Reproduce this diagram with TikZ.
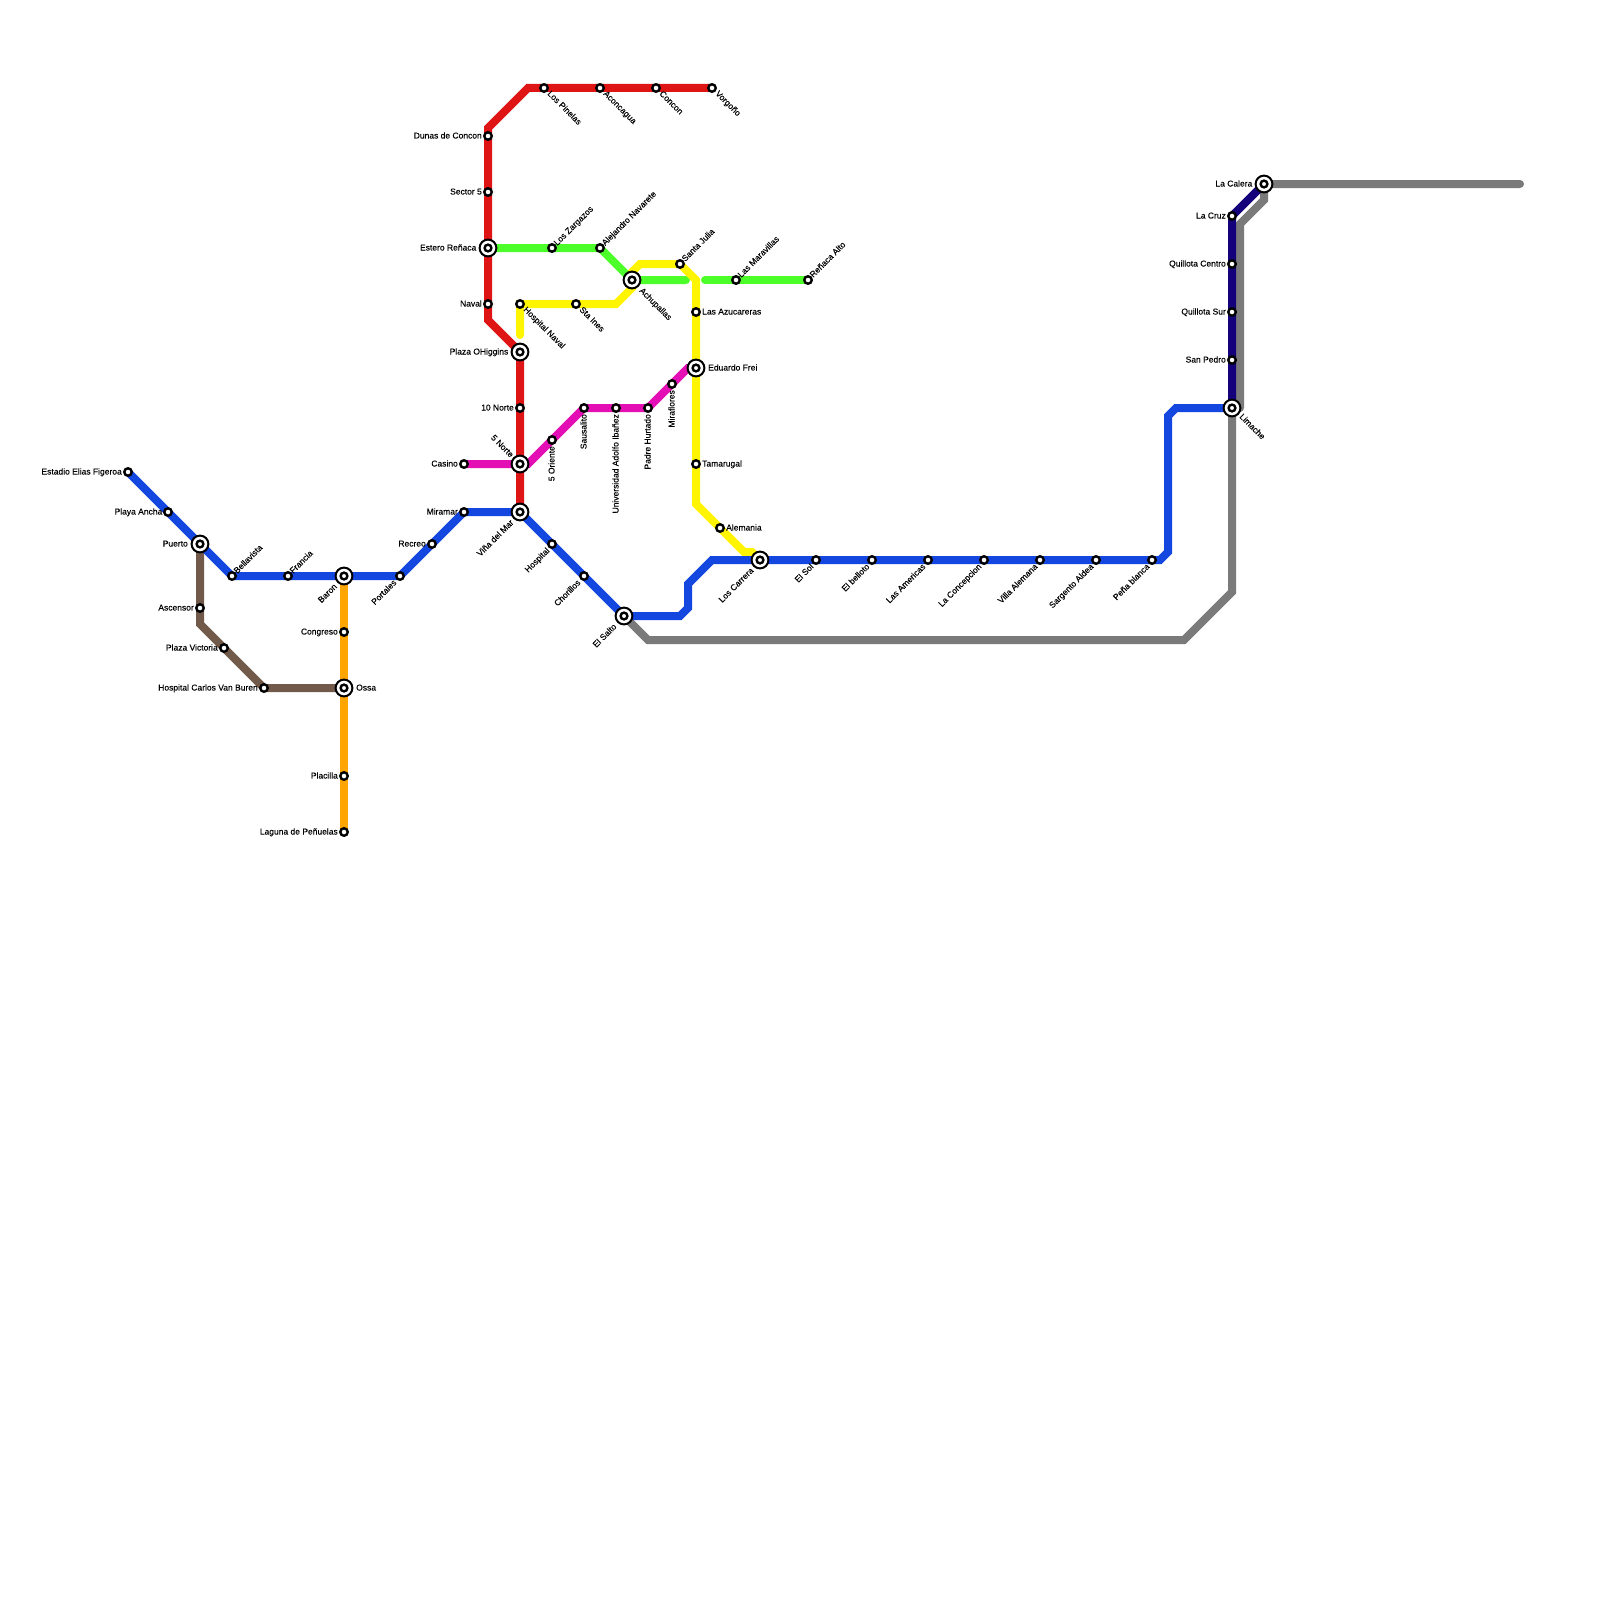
\documentclass[tikz,border=0pt]{standalone}
\usepackage{fontspec}
\setmainfont{Liberation Sans}
\newfontfamily\lblfont{Liberation Sans}[FakeBold=0.1]
\usetikzlibrary{backgrounds}
\definecolor{linered}{HTML}{DF1515}
\definecolor{linegreen}{HTML}{4CFF2B}
\definecolor{lineyellow}{HTML}{FFF500}
\definecolor{linepink}{HTML}{E40FB4}
\definecolor{lineblue}{HTML}{1447E0}
\definecolor{linegray}{HTML}{7A7A7A}
\definecolor{linenavy}{HTML}{14007A}
\definecolor{linebrown}{HTML}{725A4B}
\definecolor{lineorange}{HTML}{FFA500}
\tikzset{
  stn/.style={circle,draw=black,fill=white,line width=2.4pt,minimum size=7.5pt,inner sep=0pt},
  hub/.style={circle,draw=black,fill=white,line width=2pt,minimum size=16.8pt,inner sep=0pt,
    path picture={\draw[black,line width=2.4pt] (path picture bounding box.center) circle (3.4pt);}},
  lbl/.style={inner sep=0pt,font=\lblfont\fontsize{8.5}{8.5}\selectfont,text height=6pt,text depth=0pt},
  up/.style={lbl,rotate=45,anchor=west},
  down/.style={lbl,rotate=-45,anchor=west},
  upend/.style={lbl,rotate=45,anchor=east},
  downend/.style={lbl,rotate=-45,anchor=east},
  vert/.style={lbl,rotate=90,anchor=east},
  line/.style={line width=8pt,line cap=round,line join=miter}
}
\begin{document}
\begin{tikzpicture}[x=1pt,y=-1pt]%
\useasboundingbox (0,0) rectangle (1600,1600);
% red
\node[stn] (vorgono) at (712,88) {};
\node[stn] (concon) at (656,88) {};
\node[stn] (aconcagua) at (600,88) {};
\node[stn] (pinelas) at (544,88) {};
\node[stn] (dunas) at (488,136) {};
\node[stn] (sector) at (488,192) {};
\node[hub] (estero) at (488,248) {};
\node[stn] (naval) at (488,304) {};
\node[hub] (higgins) at (520,352) {};
\node[stn] (diez) at (520,408) {};
\node[hub] (norte) at (520,464) {};
\node[hub] (vina) at (520,512) {};
\node[down] (vorgonot) at (717,92) {Vorgoño};
\node[down] (concont) at (661,92) {Concon};
\node[down] (aconcaguat) at (605,92) {Aconcagua};
\node[down] (pinelast) at (549,92) {Los Pinelas};
\node[lbl,anchor=east] (dunast) at (482,135.5) {Dunas de Concon};
\node[lbl,anchor=east] (sectort) at (482,191.5) {Sector 5};
\node[lbl,anchor=east] (esterot) at (476.5,247.5) {Estero Reñaca};
\node[lbl,anchor=east] (navalt) at (482,303.5) {Naval};
\node[lbl,anchor=east] (higginst) at (508.5,351.5) {Plaza OHiggins};
\node[lbl,anchor=east] (diezt) at (514,407.5) {10 Norte};
\node[downend] (nortet) at (512.5,456) {5 Norte};
\node[upend] (vinat) at (512,521) {Viña del Mar};
% green
\node[stn] (zargazos) at (552,248) {};
\node[stn] (navarete) at (600,248) {};
\node[hub] (achupallas) at (632,280) {};
\node[stn] (maravillas) at (736,280) {};
\node[stn] (renaca) at (808,280) {};
\node[up] (zargazost) at (555,244) {Los Zargazos};
\node[up] (navaretet) at (603,244) {Alejandro Navarete};
\node[down] (achupallast) at (641,289) {Achupallas};
\node[up] (maravillast) at (739,276) {Las Maravillas};
\node[up] (renacat) at (811,276) {Reñaca Alto};
% yellow
\node[stn] (hnaval) at (520,304) {};
\node[stn] (ines) at (576,304) {};
\node[stn] (julia) at (680,264) {};
\node[stn] (azucareras) at (696,312) {};
\node[hub] (frei) at (696,368) {};
\node[stn] (tamarugal) at (696,464) {};
\node[stn] (alemania) at (720,528) {};
\node[hub] (carrera) at (760,560) {};
\node[down] (hnavalt) at (525,308) {Hospital Naval};
\node[down] (inest) at (581,308) {Sta Ines};
\node[up] (juliat) at (683,260) {Santa Julia};
\node[lbl,anchor=west] (azucarerast) at (702,311.5) {Las Azucareras};
\node[lbl,anchor=west] (freit) at (708,367.5) {Eduardo Frei};
\node[lbl,anchor=west] (tamarugalt) at (702,463.5) {Tamarugal};
\node[lbl,anchor=west] (alemaniat) at (726,527.5) {Alemania};
\node[upend] (carrerat) at (752,569) {Los Carrera};
% pink
\node[stn] (casino) at (464,464) {};
\node[stn] (oriente) at (552,440) {};
\node[stn] (sausalito) at (584,408) {};
\node[stn] (adolfo) at (616,408) {};
\node[stn] (hurtado) at (648,408) {};
\node[stn] (miraflores) at (672,384) {};
\node[lbl,anchor=east] (casinot) at (458,463.5) {Casino};
\node[vert] (orientet) at (551.5,446) {5 Oriente};
\node[vert] (sausalitot) at (583.5,414) {Sausalito};
\node[vert] (adolfot) at (615.5,414) {Universidad Adolfo Ibañez};
\node[vert] (hurtadot) at (647.5,414) {Padre Hurtado};
\node[vert] (mirafloresot) at (671.5,390) {Miraflores};
% blue
\node[stn] (estadio) at (128,472) {};
\node[stn] (ancha) at (168,512) {};
\node[hub] (puerto) at (200,544) {};
\node[stn] (bellavista) at (232,576) {};
\node[stn] (francia) at (288,576) {};
\node[hub] (baron) at (344,576) {};
\node[stn] (portales) at (400,576) {};
\node[stn] (recreo) at (432,544) {};
\node[stn] (miramar) at (464,512) {};
\node[stn] (hospital) at (552,544) {};
\node[stn] (chorrillos) at (584,576) {};
\node[hub] (salto) at (624,616) {};
\node[stn] (sol) at (816,560) {};
\node[stn] (belloto) at (872,560) {};
\node[stn] (americas) at (928,560) {};
\node[stn] (concepcion) at (984,560) {};
\node[stn] (villa) at (1040,560) {};
\node[stn] (sargento) at (1096,560) {};
\node[stn] (pena) at (1152,560) {};
\node[hub] (limache) at (1232,408) {};
\node[lbl,anchor=east] (estadiot) at (122,471.5) {Estadio Elias Figeroa};
\node[lbl,anchor=east] (anchat) at (162.5,511.5) {Playa Ancha};
\node[lbl,anchor=east] (puertot) at (188,543.5) {Puerto};
\node[up] (bellavistat) at (235,572) {Bellavista};
\node[up] (franciat) at (291,572) {Francia};
\node[upend] (baront) at (335.5,585) {Baron};
\node[upend] (portalest) at (395,581) {Portales};
\node[lbl,anchor=east] (recreot) at (426,543.5) {Recreo};
\node[lbl,anchor=east] (miramart) at (458,511.5) {Miramar};
\node[upend] (hospitalt) at (548,549) {Hospital};
\node[upend] (chorrillost) at (579,581) {Chorillos};
\node[upend] (saltot) at (615,625) {El Salto};
\node[upend] (solt) at (812,565) {El Sol};
\node[upend] (bellotot) at (868,565) {El belloto};
\node[upend] (americast) at (924,565) {Las Americas};
\node[upend] (concepciont) at (980,565) {La Concepcion};
\node[upend] (villat) at (1036,565) {Villa Alemana};
\node[upend] (sargentot) at (1092,565) {Sargento Aldea};
\node[upend] (penat) at (1148,565) {Peña blanca};
\node[down] (limachet) at (1241,415) {Limache};
% navy and gray
\node[stn] (sanpedro) at (1232,360) {};
\node[stn] (qsur) at (1232,312) {};
\node[stn] (qcentro) at (1232,264) {};
\node[stn] (cruz) at (1232,216) {};
\node[hub] (calera) at (1264,184) {};
\node[lbl,anchor=east] (sanpedrot) at (1226,359.5) {San Pedro};
\node[lbl,anchor=east] (qsurt) at (1226,311.5) {Quillota Sur};
\node[lbl,anchor=east] (qcentrot) at (1226,263.5) {Quillota Centro};
\node[lbl,anchor=east] (cruzt) at (1226,215.5) {La Cruz};
\node[lbl,anchor=east] (calerat) at (1252.5,183.5) {La Calera};
% brown and orange
\node[stn] (ascensor) at (200,608) {};
\node[stn] (victoria) at (224,648) {};
\node[stn] (buren) at (264,688) {};
\node[stn] (congreso) at (344,632) {};
\node[hub] (ossa) at (344,688) {};
\node[stn] (placilla) at (344,776) {};
\node[stn] (laguna) at (344,832) {};
\node[lbl,anchor=east] (ascensort) at (194,607.5) {Ascensor};
\node[lbl,anchor=east] (victoriat) at (218,647.5) {Plaza Victoria};
\node[lbl,anchor=east] (burent) at (258,687.5) {Hospital Carlos Van Buren};
\node[lbl,anchor=east] (congresot) at (338,631.5) {Congreso};
\node[lbl,anchor=west] (ossat) at (356,687.5) {Ossa};
\node[lbl,anchor=east] (placillat) at (338,775.5) {Placilla};
\node[lbl,anchor=east] (lagunat) at (338,831.5) {Laguna de Peñuelas};
% bends and free ends
\coordinate (redA) at (528,88);
\coordinate (redB) at (488,128);
\coordinate (redC) at (488,320);
\coordinate (greenA) at (686,280);
\coordinate (greenB) at (705,280);
\coordinate (yellowA) at (520,335);
\coordinate (yellowB) at (616,304);
\coordinate (yellowC) at (632,288);
\coordinate (yellowH) at (632,272);
\coordinate (yellowI) at (640,264);
\coordinate (yellowD) at (696,280);
\coordinate (yellowE) at (696,504);
\coordinate (yellowF) at (744,552);
\coordinate (yellowG) at (752,552);
\coordinate (pinkA) at (528,464);
\coordinate (pinkB) at (688,368);
\coordinate (blueA) at (680,616);
\coordinate (blueB) at (688,608);
\coordinate (blueC) at (688,584);
\coordinate (blueD) at (712,560);
\coordinate (blueE) at (1160,560);
\coordinate (blueF) at (1168,552);
\coordinate (blueG) at (1168,416);
\coordinate (blueH) at (1176,408);
\coordinate (grayA) at (648,640);
\coordinate (grayB) at (1184,640);
\coordinate (grayC) at (1232,592);
\coordinate (grayD) at (1240,408);
\coordinate (grayE) at (1240,224);
\coordinate (grayF) at (1264,200);
\coordinate (grayG) at (1520,184);
\coordinate (brownA) at (200,624);
\begin{scope}[on background layer]
\draw[line,linegray] (salto.center) -- (grayA) -- (grayB) -- (grayC) -- (limache.center);
\draw[line,linegray] (grayD) -- (grayE) -- (grayF) -- (calera.center) -- (grayG);
\draw[line,linenavy] (limache.center) -- (sanpedro.center) -- (qsur.center) -- (qcentro.center) -- (cruz.center) -- (calera.center);
\draw[line,lineorange] (baron.center) -- (congreso.center) -- (ossa.center) -- (placilla.center) -- (laguna.center);
\draw[line,linebrown] (puerto.center) -- (ascensor.center) -- (brownA) -- (victoria.center) -- (buren.center) -- (ossa.center);
\draw[line,linegreen] (estero.center) -- (zargazos.center) -- (navarete.center) -- (achupallas.center) -- (greenA);
\draw[line,linegreen] (greenB) -- (maravillas.center) -- (renaca.center);
\draw[line,lineyellow] (yellowA) -- (hnaval.center) -- (ines.center) -- (yellowB) -- (yellowC) -- (yellowH) -- (yellowI) -- (julia.center) -- (yellowD) -- (azucareras.center) -- (frei.center) -- (tamarugal.center) -- (yellowE) -- (alemania.center) -- (yellowF) -- (yellowG) -- (carrera.center);
\draw[line,linepink] (casino.center) -- (pinkA) -- (oriente.center) -- (sausalito.center) -- (adolfo.center) -- (hurtado.center) -- (miraflores.center) -- (pinkB) -- (frei.center);
\draw[line,linered] (vorgono.center) -- (concon.center) -- (aconcagua.center) -- (pinelas.center) -- (redA) -- (redB) -- (dunas.center) -- (sector.center) -- (estero.center) -- (naval.center) -- (redC) -- (higgins.center) -- (diez.center) -- (norte.center) -- (vina.center);
\draw[line,lineblue] (estadio.center) -- (ancha.center) -- (puerto.center) -- (bellavista.center) -- (francia.center) -- (baron.center) -- (portales.center) -- (recreo.center) -- (miramar.center) -- (vina.center) -- (hospital.center) -- (chorrillos.center) -- (salto.center) -- (blueA) -- (blueB) -- (blueC) -- (blueD) -- (carrera.center) -- (sol.center) -- (belloto.center) -- (americas.center) -- (concepcion.center) -- (villa.center) -- (sargento.center) -- (pena.center) -- (blueE) -- (blueF) -- (blueG) -- (blueH) -- (limache.center);
\end{scope}
\end{tikzpicture}
\end{document}
